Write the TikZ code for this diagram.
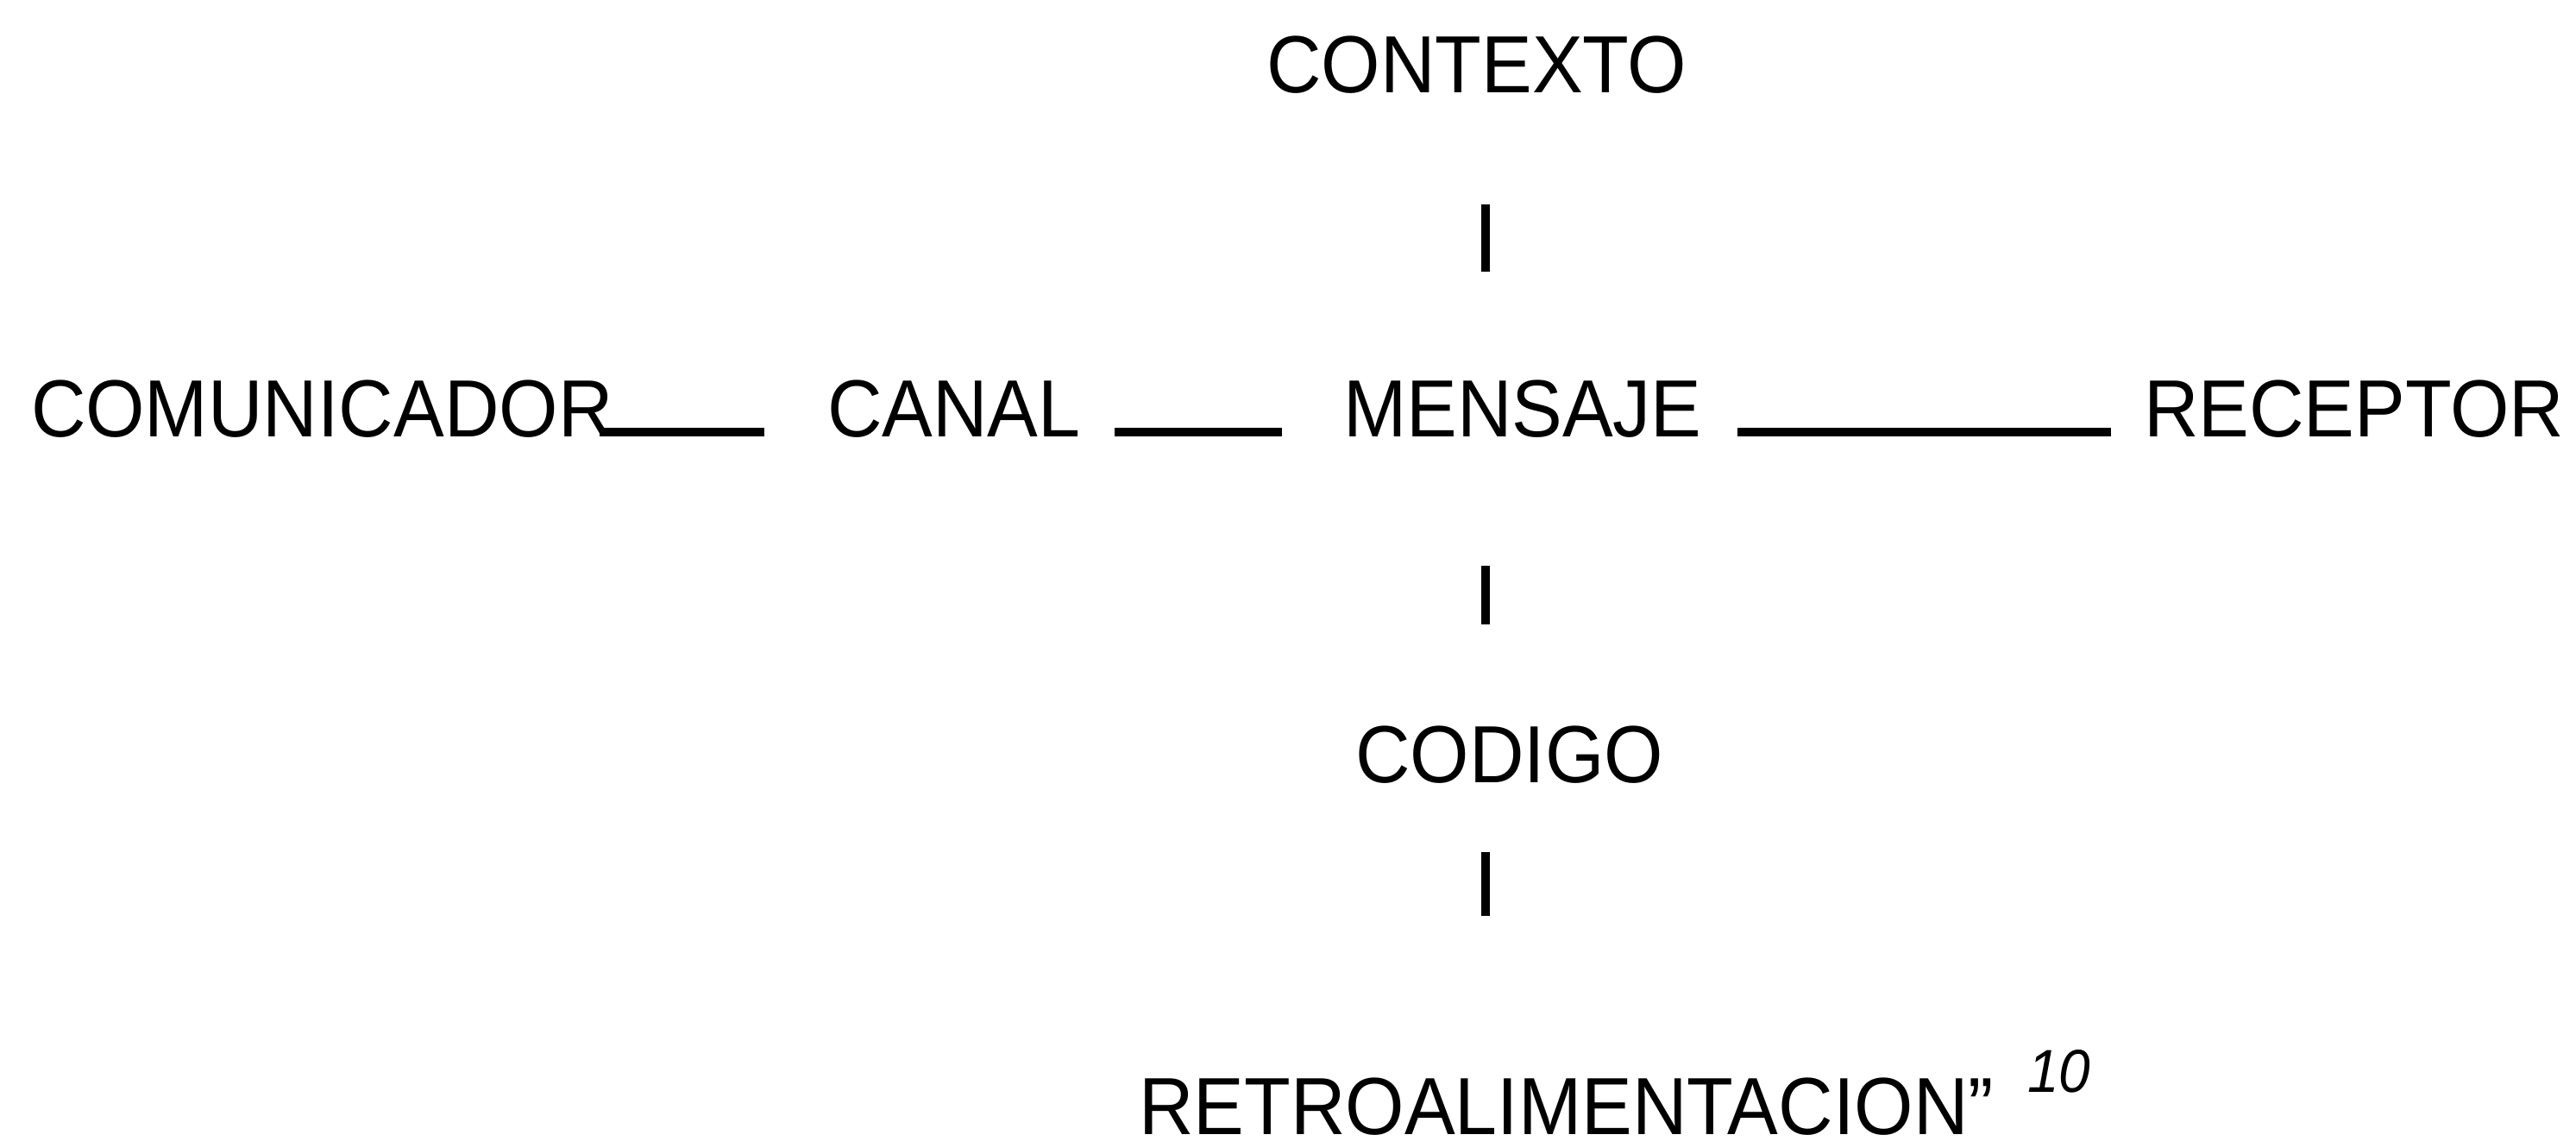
\documentclass[tikz,border=0pt]{standalone}
\usepackage{fontspec}
\setmainfont{Liberation Sans}[FakeStretch=0.936]
\begin{document}
\begin{tikzpicture}[x=1cm,y=1cm,
  lbl/.style={inner sep=0pt, outer sep=0pt, anchor=base west, font=\fontsize{26.75pt}{30pt}\selectfont},
  suplbl/.style={inner sep=0pt, outer sep=0pt, anchor=base west, font=\fontsize{20pt}{22pt}\selectfont\itshape},
  link/.style={line width=0.1cm}]
\useasboundingbox (0,0) rectangle (29.86,-13.22);
\fill[white] (0,0) rectangle (29.86,-13.22);
\coordinate (bx) at (17.22,0);
% nodes
\node[lbl] (ctx) at (14.68,-1.07) {CONTEXTO};
\node[lbl] (com) at (0.36,-5.06) {COMUNICADOR};
\node[lbl] (can) at (9.59,-5.06) {CANAL};
\node[lbl] (msg) at (15.57,-5.06) {MENSAJE};
\node[lbl] (rec) at (24.85,-5.06) {RECEPTOR};
\node[lbl] (cod) at (15.71,-9.07) {CODIGO};
\node[lbl] (ret) at (13.20,-13.15) {RETROALIMENTACION”};
\node[suplbl] (ref) at (23.50,-12.66) {10};
% horizontal connectors
\draw[link, shorten <=-0.16cm, shorten >=0.73cm] ([yshift=0.055cm]com.base east) -- ([yshift=0.055cm]can.base west);
\draw[link, shorten <=0.40cm, shorten >=0.71cm] ([yshift=0.055cm]can.base east) -- ([yshift=0.055cm]msg.base west);
\draw[link, shorten <=0.41cm, shorten >=0.38cm] ([yshift=0.055cm]msg.base east) -- ([yshift=0.055cm]rec.base west);
% vertical connectors
\draw[link, shorten <=1.29cm, shorten >=1.25cm] (ctx.south -| bx) -- (msg.north -| bx);
\draw[link, shorten <=1.49cm, shorten >=1.17cm] (msg.south -| bx) -- (cod.north -| bx);
\draw[link, shorten <=0.80cm, shorten >=1.87cm] (cod.south -| bx) -- (ret.north -| bx);
\end{tikzpicture}
\end{document}
